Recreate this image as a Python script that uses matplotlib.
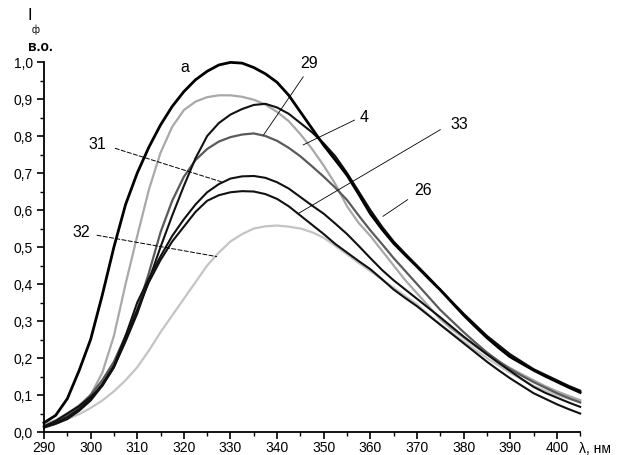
import matplotlib.pyplot as plt
from matplotlib.ticker import MultipleLocator, FuncFormatter

plt.rcParams['font.family'] = ['Liberation Sans', 'DejaVu Sans']

# wavelength grid, nm
wl = [290, 292.5, 295, 297.5, 300, 302.5, 305, 307.5, 310, 312.5, 315, 317.5,
      320, 322.5, 325, 327.5, 330, 332.5, 335, 337.5, 340, 342.5, 345, 347.5,
      350, 352.5, 355, 357.5, 360, 362.5, 365, 367.5, 370, 372.5, 375, 377.5,
      380, 382.5, 385, 387.5, 390, 392.5, 395, 397.5, 400, 402.5, 405]

# intensities (relative units)
curve_a = [0.025, 0.045, 0.09, 0.165, 0.25, 0.37, 0.50, 0.615, 0.70, 0.77, 0.83, 0.88,
           0.92, 0.952, 0.975, 0.992, 0.999, 0.997, 0.985, 0.968, 0.945, 0.91, 0.865, 0.82,
           0.775, 0.735, 0.694, 0.643, 0.59, 0.548, 0.51, 0.478, 0.447, 0.415, 0.384, 0.35,
           0.316, 0.285, 0.255, 0.228, 0.203, 0.185, 0.167, 0.151, 0.136, 0.121, 0.107]
curve_4 = [0.02, 0.032, 0.05, 0.072, 0.10, 0.16, 0.26, 0.40, 0.53, 0.655, 0.755, 0.825,
           0.87, 0.893, 0.905, 0.91, 0.91, 0.906, 0.898, 0.885, 0.865, 0.84, 0.805, 0.765,
           0.72, 0.67, 0.61, 0.565, 0.53, 0.49, 0.45, 0.41, 0.375, 0.34, 0.305, 0.278,
           0.255, 0.232, 0.21, 0.19, 0.173, 0.156, 0.14, 0.124, 0.11, 0.098, 0.086]
curve_26 = [0.015, 0.03, 0.05, 0.07, 0.095, 0.125, 0.175, 0.245, 0.32, 0.41, 0.50, 0.585,
            0.665, 0.74, 0.80, 0.835, 0.858, 0.873, 0.884, 0.887, 0.877, 0.86, 0.835, 0.81,
            0.78, 0.745, 0.70, 0.65, 0.60, 0.555, 0.515, 0.482, 0.45, 0.418, 0.385, 0.352,
            0.32, 0.29, 0.26, 0.235, 0.21, 0.19, 0.17, 0.155, 0.14, 0.125, 0.112]
curve_29 = [0.015, 0.028, 0.045, 0.068, 0.10, 0.14, 0.19, 0.26, 0.33, 0.43, 0.54, 0.625,
            0.69, 0.735, 0.765, 0.785, 0.797, 0.804, 0.807, 0.80, 0.787, 0.768, 0.745, 0.718,
            0.69, 0.66, 0.627, 0.585, 0.545, 0.508, 0.47, 0.435, 0.40, 0.365, 0.33, 0.30,
            0.27, 0.242, 0.215, 0.192, 0.17, 0.152, 0.135, 0.12, 0.105, 0.092, 0.08]
curve_31 = [0.015, 0.025, 0.04, 0.062, 0.09, 0.13, 0.18, 0.26, 0.35, 0.415, 0.475, 0.53,
            0.575, 0.615, 0.648, 0.67, 0.685, 0.691, 0.692, 0.687, 0.675, 0.658, 0.635, 0.612,
            0.59, 0.563, 0.535, 0.503, 0.47, 0.438, 0.41, 0.385, 0.36, 0.335, 0.31, 0.284,
            0.258, 0.234, 0.21, 0.187, 0.165, 0.143, 0.122, 0.106, 0.093, 0.08, 0.068]
curve_33 = [0.012, 0.022, 0.035, 0.057, 0.085, 0.125, 0.175, 0.25, 0.33, 0.405, 0.465, 0.515,
            0.555, 0.595, 0.625, 0.64, 0.648, 0.651, 0.65, 0.643, 0.63, 0.61, 0.585, 0.56,
            0.535, 0.508, 0.485, 0.462, 0.44, 0.413, 0.385, 0.362, 0.34, 0.315, 0.29, 0.265,
            0.24, 0.215, 0.19, 0.167, 0.145, 0.125, 0.105, 0.09, 0.075, 0.062, 0.05]
curve_32 = [0.012, 0.022, 0.035, 0.048, 0.065, 0.085, 0.11, 0.14, 0.175, 0.22, 0.27, 0.315,
            0.36, 0.405, 0.45, 0.485, 0.515, 0.535, 0.55, 0.556, 0.558, 0.555, 0.55, 0.54,
            0.525, 0.503, 0.48, 0.457, 0.435, 0.412, 0.39, 0.367, 0.345, 0.317, 0.29, 0.267,
            0.245, 0.222, 0.2, 0.18, 0.16, 0.142, 0.125, 0.112, 0.1, 0.09, 0.08]

fig = plt.figure(figsize=(6.17, 4.55), dpi=100)
ax = fig.add_axes([0.0713, 0.0505, 0.869, 0.8132])

ax.plot(wl, curve_32, color='#c4c4c4', lw=1.6, clip_on=False)
ax.plot(wl, curve_4, color='#a8a8a8', lw=1.6, clip_on=False)
ax.plot(wl, curve_29, color='#5a5a5a', lw=1.6, clip_on=False)
ax.plot(wl, curve_33, color='#111111', lw=1.5, clip_on=False)
ax.plot(wl, curve_31, color='#111111', lw=1.5, clip_on=False)
ax.plot(wl, curve_26, color='#111111', lw=1.5, clip_on=False)
ax.plot(wl, curve_a, color='black', lw=2.0, clip_on=False)

# curve labels with leader lines
lab = dict(fontsize=11.5, color='black')
ax.text(320.3, 0.984, 'a', ha='center', va='center', **lab)
ax.text(346.9, 0.997, '29', ha='center', va='center', **lab)
ax.plot([345.6, 337.1], [0.96, 0.803], color='black', lw=0.6)
ax.text(358.6, 0.849, '4', ha='center', va='center', **lab)
ax.plot([356.6, 345.6], [0.843, 0.776], color='black', lw=0.6)
ax.text(379.0, 0.832, '33', ha='center', va='center', **lab)
ax.plot([375.0, 344.6], [0.817, 0.591], color='black', lw=0.6)
ax.text(371.4, 0.653, '26', ha='center', va='center', **lab)
ax.plot([368.0, 362.7], [0.628, 0.583], color='black', lw=0.6)
ax.text(301.5, 0.776, '31', ha='center', va='center', **lab)
ax.plot([305.2, 328.1], [0.767, 0.676], color='black', lw=0.7, ls=(0, (5, 1.5)))
ax.text(298.0, 0.54, '32', ha='center', va='center', **lab)
ax.plot([301.3, 327.1], [0.532, 0.474], color='black', lw=0.7, ls=(0, (5, 1.5)))

ax.set_xlim(290, 405)
ax.set_ylim(0, 1.0)
ax.spines['top'].set_visible(False)
ax.spines['right'].set_visible(False)
ax.spines['left'].set_linewidth(1.3)
ax.spines['bottom'].set_linewidth(1.3)

ax.set_xticks(range(290, 401, 10))
ax.xaxis.set_minor_locator(MultipleLocator(5))
ax.yaxis.set_major_locator(MultipleLocator(0.1))
ax.yaxis.set_minor_locator(MultipleLocator(0.05))
ax.yaxis.set_major_formatter(FuncFormatter(lambda v, p: f'{v:.1f}'.replace('.', ',')))
ax.tick_params(which='major', direction='out', length=5, width=1.2, labelsize=10)
ax.tick_params(which='minor', direction='out', length=3, width=1.0)
ax.tick_params(axis='x', which='major', pad=1.5)
ax.tick_params(axis='y', which='major', pad=3)

fig.text(0.048, 0.965, 'I', fontsize=12, ha='center', va='center')
fig.text(0.057, 0.934, 'ф', fontsize=7, ha='center', va='center')
fig.text(0.065, 0.897, 'в.о.', fontsize=10, ha='center', va='center', fontweight='bold')
fig.text(0.965, 0.013, 'λ, нм', fontsize=10, ha='center', va='center')

plt.savefig('out.png', dpi=100)
